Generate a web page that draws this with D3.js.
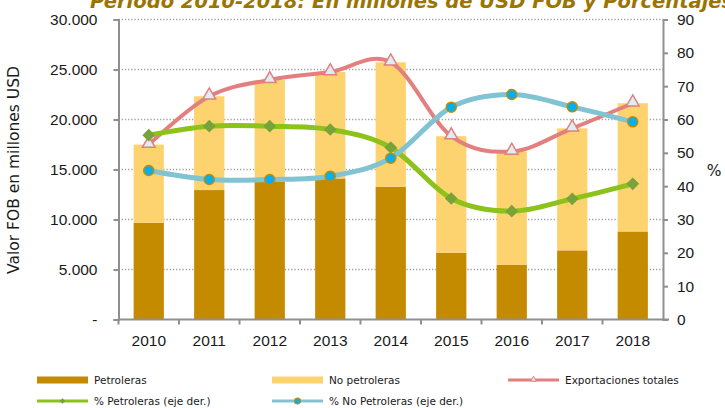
<!DOCTYPE html>
<html>
<head>
<meta charset="utf-8">
<script src="https://cdn.jsdelivr.net/npm/d3@7"></script>
<style>
  body { margin: 0; background: #fff; }
  svg { display: block; font-family: "DejaVu Sans", Verdana, sans-serif; }
  .grid line { stroke: #9a9a9a; stroke-width: 1.5px; stroke-dasharray: 1.2,2; }
  .axis path, .axis line { stroke: #8f8f8f; stroke-width: 2px; }
  .axis text { fill: #1a1a1a; font-size: 15.5px; }
  .legend text { fill: #1a1a1a; font-size: 10.5px; }
</style>
</head>
<body>
<svg id="chart" width="725" height="408"></svg>
<script>
// data
var years = ["2010", "2011", "2012", "2013", "2014", "2015", "2016", "2017", "2018"];
var petroleras = [9673, 12945, 13792, 14107, 13276, 6660, 5459, 6914, 8802];
var noPetroleras = [7817, 9377, 10172, 10644, 12448, 11670, 11338, 12204, 12826];
var totales = [17490, 22322, 23965, 24751, 25724, 18330, 16797, 19118, 21628];
var pctPetroleras = [55.3, 58.0, 58.0, 57.0, 51.6, 36.3, 32.5, 36.2, 40.7];
var pctNoPetroleras = [44.7, 42.0, 42.0, 43.0, 48.4, 63.7, 67.5, 63.8, 59.3];
var leftTicks = [0, 5000, 10000, 15000, 20000, 25000, 30000];
var rightTicks = [0, 10, 20, 30, 40, 50, 60, 70, 80, 90];

var colors = {
  pet: "#c48b00",
  noPet: "#fdd36f",
  total: "#e37f7f",
  pctPet: "#8cc21a",
  pctNoPet: "#80c3d3"
};

var margin = {top: 19.5, left: 118.5, right: 62, bottom: 88.5},
  width = 725 - margin.left - margin.right,
  height = 408 - margin.top - margin.bottom;

var svg = d3.select("#chart");

// title, cut off by the top edge like in the source image
svg.append("text")
  .attr("x", 90)
  .attr("y", 8)
  .attr("fill", "#9c7400")
  .attr("font-size", "19.5px")
  .attr("font-weight", "bold")
  .attr("font-style", "italic")
  .text("Período 2010-2018: En millones de USD FOB y Porcentajes");

var g = svg.append("g")
  .attr("transform", "translate(" + margin.left + "," + margin.top + ")");

// scales
var x = d3.scaleBand().domain(years).range([0, width]).paddingInner(0.5).paddingOuter(0.25);
var y = d3.scaleLinear().domain([0, 30000]).range([height, 0]);
var y2 = d3.scaleLinear().domain([0, 90]).range([height, 0]);
var cx = function(i) { return x(years[i]) + x.bandwidth() / 2; };

// gridlines
g.append("g").attr("class", "grid")
  .selectAll("line")
  .data(leftTicks.filter(function(d) { return d > 0; }))
  .enter().append("line")
    .attr("x1", 0).attr("x2", width)
    .attr("y1", function(d) { return y(d); })
    .attr("y2", function(d) { return y(d); });

// stacked bars
var stacked = years.map(function(yr, i) {
  return {year: yr, pet: petroleras[i], noPet: noPetroleras[i]};
});
var series = d3.stack().keys(["pet", "noPet"])(stacked);

g.selectAll(".serie")
  .data(series)
  .enter().append("g")
    .attr("fill", function(d) { return colors[d.key]; })
  .selectAll("rect")
  .data(function(d) { return d; })
  .enter().append("rect")
    .attr("x", function(d) { return x(d.data.year); })
    .attr("width", x.bandwidth())
    .attr("y", function(d) { return y(d[1]); })
    .attr("height", function(d) { return y(d[0]) - y(d[1]); });

// axes
var fmt = function(d) { return d === 0 ? "-" : d3.format(",")(d).replace(/,/g, "."); };

g.append("g").attr("class", "axis")
  .call(d3.axisLeft(y).tickValues(leftTicks).tickSizeOuter(0).tickSize(5).tickPadding(16).tickFormat(fmt));

g.append("g").attr("class", "axis")
  .attr("transform", "translate(" + width + ",0)")
  .call(d3.axisRight(y2).tickValues(rightTicks).tickSizeOuter(0).tickSize(5).tickPadding(9));

var xAxis = g.append("g").attr("class", "axis")
  .attr("transform", "translate(0," + height + ")")
  .call(d3.axisBottom(x).tickSize(0).tickPadding(15));

// x ticks sit at the band edges
xAxis.selectAll(".edge")
  .data(d3.range(years.length))
  .enter().append("line")
    .attr("x1", function(i) { return x(years[i]) - x.step() * x.paddingInner() / 2; })
    .attr("x2", function(i) { return x(years[i]) - x.step() * x.paddingInner() / 2; })
    .attr("y1", 0).attr("y2", 5);
xAxis.select(".domain").attr("d", "M0,0H" + (width + 6));

// axis titles
svg.append("text")
  .attr("transform", "translate(19,170) rotate(-90)")
  .attr("text-anchor", "middle")
  .attr("font-size", "15.5px")
  .attr("fill", "#1a1a1a")
  .text("Valor FOB en millones USD");

svg.append("text")
  .attr("x", 714).attr("y", 176)
  .attr("text-anchor", "middle")
  .attr("font-size", "15.5px")
  .attr("fill", "#1a1a1a")
  .text("%");

// smooth lines
var curve = d3.curveCatmullRom.alpha(0);

function drawLine(values, scale, color, w) {
  g.append("path")
    .datum(values)
    .attr("fill", "none")
    .attr("stroke", color)
    .attr("stroke-width", w)
    .attr("stroke-linecap", "round")
    .attr("d", d3.line().x(function(d, i) { return cx(i); }).y(function(d) { return scale(d); }).curve(curve));
}

// exportaciones totales + triangles
drawLine(totales, y, colors.total, 4);
g.selectAll(".tri")
  .data(totales)
  .enter().append("path")
    .attr("transform", function(d, i) { return "translate(" + cx(i) + "," + (y(d) - 1) + ")"; })
    .attr("d", d3.symbol().type(d3.symbolTriangle).size(70))
    .attr("fill", "#dbeef3")
    .attr("stroke", colors.total)
    .attr("stroke-width", 1.5);

// % petroleras + diamonds
drawLine(pctPetroleras, y2, colors.pctPet, 5);
g.selectAll(".dia")
  .data(pctPetroleras)
  .enter().append("rect")
    .attr("transform", function(d, i) { return "translate(" + cx(i) + "," + y2(d) + ") rotate(45)"; })
    .attr("x", -4.5).attr("y", -4.5)
    .attr("width", 9).attr("height", 9)
    .attr("fill", "#77a33a");

// % no petroleras + circles
drawLine(pctNoPetroleras, y2, colors.pctNoPet, 5);
g.selectAll(".dot")
  .data(pctNoPetroleras)
  .enter().append("circle")
    .attr("cx", function(d, i) { return cx(i); })
    .attr("cy", function(d) { return y2(d); })
    .attr("r", 5)
    .attr("fill", "#00b0f0")
    .attr("stroke", colors.pet)
    .attr("stroke-width", 1.5);

// legend
var legend = svg.append("g").attr("class", "legend");
var items = [
  {label: "Petroleras", type: "bar", color: colors.pet, x: 37, y: 380},
  {label: "No petroleras", type: "bar", color: colors.noPet, x: 272, y: 380},
  {label: "Exportaciones totales", type: "tri", color: colors.total, x: 508, y: 380},
  {label: "% Petroleras (eje der.)", type: "dia", color: colors.pctPet, x: 37, y: 401},
  {label: "% No Petroleras (eje der.)", type: "dot", color: colors.pctNoPet, x: 272, y: 401}
];

items.forEach(function(it) {
  var li = legend.append("g").attr("transform", "translate(" + it.x + "," + it.y + ")");
  if (it.type === "bar") {
    li.append("rect").attr("x", 0).attr("y", -3.5).attr("width", 51).attr("height", 7).attr("fill", it.color);
  } else {
    li.append("line").attr("x1", 0).attr("x2", 51).attr("stroke", it.color).attr("stroke-width", 3);
    if (it.type === "tri") {
      li.append("path").attr("transform", "translate(25.5,-0.5)")
        .attr("d", d3.symbol().type(d3.symbolTriangle).size(14))
        .attr("fill", "#dbeef3").attr("stroke", it.color).attr("stroke-width", 1);
    } else if (it.type === "dia") {
      li.append("rect").attr("transform", "translate(25.5,0) rotate(45)")
        .attr("x", -2).attr("y", -2).attr("width", 4).attr("height", 4).attr("fill", "#77a33a");
    } else {
      li.append("circle").attr("cx", 25.5).attr("r", 3)
        .attr("fill", "#00b0f0").attr("stroke", colors.pet).attr("stroke-width", 1.2);
    }
  }
  li.append("text").attr("x", 57).attr("dy", "0.35em").text(it.label);
});
</script>
</body>
</html>
